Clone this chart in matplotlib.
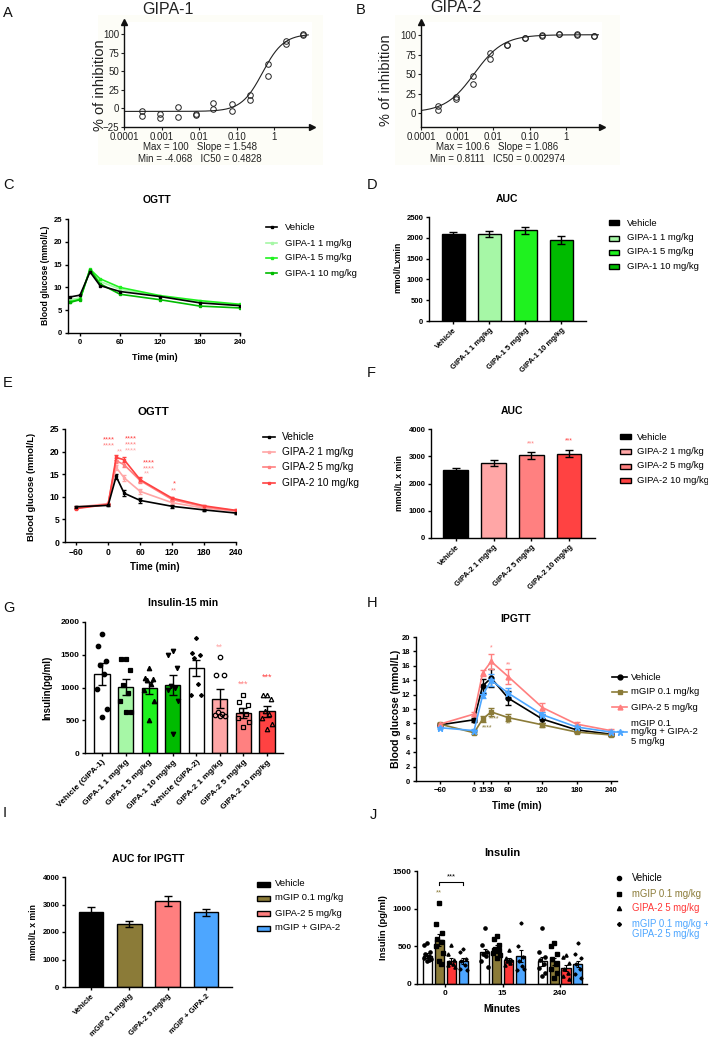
import numpy as np
import matplotlib
matplotlib.use('Agg')
import matplotlib.pyplot as plt
from matplotlib.lines import Line2D
from matplotlib.patches import Rectangle

plt.rcParams['font.family'] = ['Liberation Sans', 'DejaVu Sans']

# ---------------- DATA ----------------
# A/B dose-response (concentration, % inhibition, duplicates)
conc = [0.0003, 0.0009, 0.0027, 0.0081, 0.024, 0.073, 0.22, 0.66, 2.0, 5.9]
gipa1_rep1 = [-4, -8, 2, -7, 7, 6, 18, 59, 91, 100]
gipa1_rep2 = [-10, -13, -12, -9, -1, -3, 11, 44, 86, 99]
gipa1_fit = dict(top=100.0, bottom=-4.068, slope=1.548, ic50=0.4828)
gipa2_rep1 = [9, 21, 48, 77, 88, 97, 100, 101, 101, 99]
gipa2_rep2 = [4, 18, 37, 69, 87, 96, 99, 101, 100, 99]
gipa2_fit = dict(top=100.6, bottom=0.8111, slope=1.086, ic50=0.002974)

# C OGTT GIPA-1
times_c = [-15, 0, 15, 30, 60, 120, 180, 240]
c_series = ['Vehicle', 'GIPA-1 1 mg/kg', 'GIPA-1 5 mg/kg', 'GIPA-1 10 mg/kg']
c_vehicle = [7.9, 8.3, 13.4, 10.4, 9.1, 8.0, 6.6, 6.0]
c_g1_1 = [7.3, 7.7, 13.9, 11.3, 9.6, 8.0, 6.8, 6.1]
c_g1_5 = [6.9, 7.4, 14.0, 11.9, 10.0, 8.2, 7.1, 6.3]
c_g1_10 = [6.7, 7.3, 13.9, 10.8, 8.5, 7.3, 5.9, 5.5]

# D AUC GIPA-1
d_labels = ['Vehicle', 'GIPA-1 1 mg/kg', 'GIPA-1 5 mg/kg', 'GIPA-1 10 mg/kg']
d_auc = [2080, 2095, 2180, 1945]
d_sem = [55, 65, 90, 90]

# E OGTT GIPA-2
times_e = [-60, 0, 15, 30, 60, 120, 180, 240]
e_series = ['Vehicle', 'GIPA-2 1 mg/kg', 'GIPA-2 5 mg/kg', 'GIPA-2 10 mg/kg']
e_vehicle = [7.8, 8.1, 14.5, 10.8, 9.2, 7.9, 7.1, 6.4]
e_g2_1 = [7.7, 8.5, 16.5, 14.2, 11.2, 8.7, 7.5, 6.8]
e_g2_5 = [7.5, 8.4, 18.0, 17.1, 13.6, 9.4, 7.8, 6.9]
e_g2_10 = [7.4, 8.3, 18.7, 18.2, 13.8, 9.7, 8.0, 7.0]
e_sem = [0.2, 0.2, 0.6, 0.6, 0.5, 0.3, 0.2, 0.2]
# significance labels: (time, value, text, series index 1..3)
e_stars = [(2, 22.6, '****', 3), (2, 21.2, '****', 2), (22, 19.9, '**', 1),
           (42, 22.8, '****', 3), (42, 21.5, '****', 2), (42, 20.1, '****', 1),
           (77, 17.5, '****', 3), (77, 16.2, '****', 2), (73, 15.0, '**', 1),
           (124, 12.8, '*', 3), (124, 11.4, '**', 2)]

# F AUC GIPA-2
f_labels = ['Vehicle', 'GIPA-2 1 mg/kg', 'GIPA-2 5 mg/kg', 'GIPA-2 10 mg/kg']
f_auc = [2480, 2750, 3030, 3095]
f_sem = [90, 110, 120, 140]
f_stars = [(2, 3450, '***'), (3, 3560, '***')]

# G insulin 15 min
g_labels = ['Vehicle (GIPA-1)', 'GIPA-1 1 mg/kg', 'GIPA-1 5 mg/kg', 'GIPA-1 10 mg/kg',
            'Vehicle (GIPA-2)', 'GIPA-2 1 mg/kg', 'GIPA-2 5 mg/kg', 'GIPA-2 10 mg/kg']
g_means = [1210, 1010, 995, 1035, 1300, 830, 615, 640]
g_sem = [165, 125, 90, 150, 125, 150, 75, 85]
g_pts_veh1 = [1820, 1640, 1400, 1350, 1200, 980, 670, 550]
g_pts_g1_1 = [1440, 1440, 1260, 1040, 920, 800, 630, 630]
g_pts_g1_5 = [1300, 1150, 1130, 1110, 1060, 960, 790, 500]
g_pts_g1_10 = [1560, 1500, 1300, 1020, 1000, 960, 800, 290]
g_pts_veh2 = [1750, 1520, 1500, 1450, 1050, 890, 890]
g_pts_g2_1 = [1470, 1190, 1190, 620, 600, 580, 570, 560]
g_pts_g2_5 = [890, 780, 740, 650, 600, 540, 480, 390]
g_pts_g2_10 = [880, 880, 820, 640, 600, 530, 450, 360]
g_stars = [(5, 1620, '**'), (6, 1055, '***'), (7, 1160, '***')]

# H IPGTT
times_h = [-60, 0, 15, 30, 60, 120, 180, 240]
h_series = ['Vehicle', 'mGIP 0.1 mg/kg', 'GIPA-2 5 mg/kg', 'mGIP 0.1\nmg/kg + GIPA-2\n5 mg/kg']
h_vehicle = [7.8, 8.5, 13.2, 14.3, 11.5, 8.6, 7.1, 6.5]
h_vehicle_sem = [0.3, 0.3, 1.0, 1.2, 1.0, 0.5, 0.3, 0.3]
h_mgip = [7.9, 6.7, 8.6, 9.6, 8.8, 7.8, 6.8, 6.4]
h_mgip_sem = [0.2, 0.2, 0.4, 0.6, 0.5, 0.3, 0.2, 0.2]
h_gipa2 = [7.9, 9.3, 15.0, 16.6, 14.5, 10.2, 7.9, 7.0]
h_gipa2_sem = [0.2, 0.3, 0.4, 1.0, 1.0, 0.6, 0.3, 0.2]
h_combo = [7.4, 7.0, 11.9, 14.0, 12.2, 9.2, 7.5, 6.8]
h_combo_sem = [0.2, 0.2, 0.4, 0.8, 0.7, 0.4, 0.3, 0.2]
# (time, value, text, series index)
h_stars = [(30, 18.5, '*', 2), (60, 16.1, '**', 2), (35, 8.6, '****', 1),
           (23, 7.4, '****', 1), (60, 7.9, '**', 1)]

# I AUC IPGTT
i_labels = ['Vehicle', 'mGIP 0.1 mg/kg', 'GIPA-2 5 mg/kg', 'mGIP + GIPA-2']
i_auc = [2720, 2290, 3120, 2710]
i_sem = [180, 100, 180, 140]

# J insulin
j_times = ['0', '15', '240']
j_series = ['Vehicle', 'mGIP 0.1 mg/kg', 'GIPA-2 5 mg/kg', 'mGIP 0.1 mg/kg +\nGIPA-2 5 mg/kg']
j_vehicle = [375, 420, 300]
j_mgip = [590, 480, 300]
j_gipa2 = [305, 320, 210]
j_combo = [300, 370, 265]
j_vehicle_sem = [30, 50, 60]
j_mgip_sem = [80, 40, 50]
j_gipa2_sem = [40, 25, 40]
j_combo_sem = [40, 80, 45]
j_pts_vehicle = [[550, 520, 430, 400, 370, 350, 330, 300, 320],
                 [750, 520, 420, 400, 370, 300, 230],
                 [745, 430, 360, 320, 270, 210, 140, 100]]
j_pts_mgip = [[1080, 800, 680, 600, 560, 500, 410, 300, 260],
              [640, 600, 520, 460, 440, 410, 380, 350],
              [540, 500, 400, 330, 270, 200, 140, 80]]
j_pts_gipa2 = [[520, 400, 320, 290, 270, 250, 230],
               [450, 340, 320, 300, 280, 250],
               [390, 360, 280, 200, 140, 100, 60]]
j_pts_combo = [[470, 420, 330, 300, 250, 200, 180],
               [810, 500, 360, 300, 240, 180, 200],
               [540, 400, 340, 260, 200, 130, 80]]

# ---------------- STYLE ----------------
GL1, GL5, GL10 = '#a6f7a6', '#1ff21f', '#00bb00'
PK1, PK5, PK10 = '#ffa6a6', '#ff8080', '#ff4242'
OLIVE, SALMON, BLUE, RED = '#8b7b38', '#ff7f7f', '#4da6ff', '#ff3838'

W, H = 708, 1043
fig = plt.figure(figsize=(W / 100, H / 100), dpi=100)


def add_ax(l, t, r, b):
    return fig.add_axes([l / W, 1 - b / H, (r - l) / W, (b - t) / H])


def fx(x):
    return x / W


def fy(y):
    return 1 - y / H


def ftext(x, y, s, **kw):
    kw.setdefault('ha', 'center')
    kw.setdefault('va', 'center')
    fig.text(fx(x), fy(y), s, **kw)


def prism(ax, fs=5.5):
    for s in ['top', 'right']:
        ax.spines[s].set_visible(False)
    for s in ['left', 'bottom']:
        ax.spines[s].set_linewidth(1.0)
    ax.tick_params(direction='out', length=2.5, width=1.0, labelsize=fs, pad=1.5)
    for lab in ax.get_xticklabels() + ax.get_yticklabels():
        lab.set_fontweight('bold')


def leg_line(x0, x1, y, color, text, tx, fs, marker='s', ms=2.5, tcolor='black'):
    fig.add_artist(Line2D([fx(x0), fx(x1)], [fy(y), fy(y)], color=color, lw=1.2))
    fig.add_artist(Line2D([fx((x0 + x1) / 2)], [fy(y)], color=color, marker=marker, ms=ms, lw=0))
    ftext(tx, y, text, ha='left', fontsize=fs, color=tcolor, linespacing=1.0)


def leg_patch(x0, x1, y, color, text, tx, fs, h=5):
    fig.add_artist(Rectangle((fx(x0), fy(y + h / 2)), (x1 - x0) / W, h / H,
                             transform=fig.transFigure, facecolor=color,
                             edgecolor='black', lw=1.0))
    ftext(tx, y, text, ha='left', fontsize=fs)


def four_pl(x, p):
    x = np.asarray(x)
    return p['bottom'] + (p['top'] - p['bottom']) / (1 + (p['ic50'] / x) ** p['slope'])


# ---------------- A & B ----------------
def dose_panel(box, rep1, rep2, fit, ylim, title, tpos, ylabpos, txt, txtpos):
    ax = add_ax(*box)
    xx = np.logspace(-4, 0.9, 300)
    ax.plot(xx, four_pl(xx, fit), color='#222222', lw=0.8)
    ax.plot(conc, rep1, 'o', mfc='none', mec='#222222', ms=4, mew=0.7)
    ax.plot(conc, rep2, 'o', mfc='none', mec='#222222', ms=4, mew=0.7)
    ax.set_xscale('log')
    ax.set_xlim(1e-4, 10)
    ax.set_ylim(*ylim)
    ax.set_xticks([1e-4, 1e-3, 1e-2, 1e-1, 1])
    ax.set_xticklabels(['0.0001', '0.001', '0.01', '0.10', '1'])
    ax.xaxis.set_minor_locator(matplotlib.ticker.NullLocator())
    ax.set_yticks([t for t in [-25, 0, 25, 50, 75, 100] if t >= ylim[0]])
    for s in ['top', 'right']:
        ax.spines[s].set_visible(False)
    for s in ['left', 'bottom']:
        ax.spines[s].set_linewidth(1.0)
        ax.spines[s].set_color('#111111')
    ax.tick_params(direction='out', length=2.5, width=0.8, labelsize=7, pad=1.0,
                   colors='#222222')
    ax.plot([1], [0], '>', transform=ax.transAxes, clip_on=False, color='#111111', ms=5)
    ax.plot([0], [1], '^', transform=ax.transAxes, clip_on=False, color='#111111', ms=5)
    ftext(tpos[0], tpos[1], title, fontsize=11.5, color='#222222')
    ftext(ylabpos[0], ylabpos[1], '% of inhibition', rotation=90, fontsize=10.5,
          color='#222222')
    ftext(txtpos[0], txtpos[1], txt[0], fontsize=7, color='#222222')
    ftext(txtpos[0], txtpos[1] + 12, txt[1], fontsize=7, color='#222222')
    return ax


fig.add_artist(Rectangle((fx(98), fy(165)), 225 / W, 150 / H, transform=fig.transFigure,
                         facecolor='#fdfdf7', edgecolor='none', zorder=-5))
fig.add_artist(Rectangle((fx(395), fy(165)), 225 / W, 150 / H, transform=fig.transFigure,
                         facecolor='#fdfdf8', edgecolor='none', zorder=-5))

dose_panel((124, 22, 312, 127), gipa1_rep1, gipa1_rep2, gipa1_fit, (-25, 116),
           'GIPA-1', (168, 9), (100, 85),
           ('Max = 100   Slope = 1.548', 'Min = -4.068   IC50 = 0.4828'), (200, 147))
dose_panel((421, 22, 602, 127), gipa2_rep1, gipa2_rep2, gipa2_fit, (-18, 117),
           'GIPA-2', (456, 8), (386, 80),
           ('Max = 100.6   Slope = 1.086', 'Min = 0.8111   IC50 = 0.002974'), (497, 147))

# panel letters
for letter, (x, y) in {'A': (3, 13), 'B': (356, 10), 'C': (3, 185), 'D': (367, 185),
                       'E': (3, 383), 'F': (367, 373), 'G': (3, 608), 'H': (367, 603),
                       'I': (3, 813), 'J': (370, 815)}.items():
    ftext(x, y, letter, ha='left', fontsize=10.5, color='#111111')

# ---------------- C ----------------
ax = add_ax(68, 219, 240, 333)
for vals, col in zip([c_g1_1, c_g1_5, c_g1_10, c_vehicle], [GL1, GL5, GL10, 'black']):
    ax.plot(times_c, vals, color=col, lw=1.2, marker='s', ms=2)
ax.set_xlim(-18, 240)
ax.set_ylim(0, 25)
ax.set_xticks([0, 60, 120, 180, 240])
ax.set_yticks([0, 5, 10, 15, 20, 25])
prism(ax, 5.5)
ftext(157, 200, 'OGTT', fontsize=7.5, fontweight='bold')
ftext(45, 275, 'Blood glucose (mmol/L)', rotation=90, fontsize=6.2, fontweight='bold')
ftext(155, 357, 'Time (min)', fontsize=6.5, fontweight='bold')
for lab, col, y in zip(c_series, ['black', GL1, GL5, GL10], [227, 243, 258, 273]):
    leg_line(266, 277, y, col, lab, 285, 6.8, ms=2)

# ---------------- D ----------------
ax = add_ax(429, 217, 586, 321)
xd = np.arange(len(d_labels))
ax.bar(xd, d_auc, width=0.64, color=['black', GL1, GL5, GL10], edgecolor='black', lw=1.0,
       yerr=d_sem, capsize=3, error_kw=dict(lw=1.0, capthick=1.0))
ax.set_xlim(-0.67, 3.69)
ax.set_ylim(0, 2500)
ax.set_yticks([0, 500, 1000, 1500, 2000, 2500])
ax.set_xticks(xd)
ax.set_xticklabels(d_labels, rotation=45, ha='right', rotation_mode='anchor')
prism(ax, 5.5)
ftext(507, 199, 'AUC', fontsize=7.5, fontweight='bold')
ftext(398, 267, 'mmol/Lxmin', rotation=90, fontsize=6.2, fontweight='bold')
for lab, col, y in zip(d_labels, ['black', GL1, GL5, GL10], [223, 238, 252, 266]):
    leg_patch(609, 619, y, col, lab, 627, 6.8)

# ---------------- E ----------------
ax = add_ax(65, 429, 236, 542)
e_cols = ['black', PK1, PK5, PK10]
for vals, col in zip([e_g2_1, e_g2_5, e_g2_10, e_vehicle], e_cols[1:] + ['black']):
    ax.errorbar(times_e, vals, yerr=e_sem, color=col, lw=1.2, marker='s', ms=2,
                capsize=1.5, elinewidth=0.8)
for t, v, s, k in e_stars:
    ax.text(t, v, s, color=e_cols[k], fontsize=5.5, ha='center', va='center')
ax.set_xlim(-81, 240)
ax.set_ylim(0, 25)
ax.set_xticks([-60, 0, 60, 120, 180, 240])
ax.set_yticks([0, 5, 10, 15, 20, 25])
prism(ax, 6.2)
ftext(153, 412, 'OGTT', fontsize=8.2, fontweight='bold')
ftext(32, 487, 'Blood glucose (mmol/L)', rotation=90, fontsize=6.8, fontweight='bold')
ftext(155, 567, 'Time (min)', fontsize=7, fontweight='bold')
for lab, col, y in zip(e_series, e_cols, [437, 452, 467, 483]):
    leg_line(263, 275, y, col, lab, 282, 7.3, ms=2)

# ---------------- F ----------------
ax = add_ax(431, 429, 595, 538)
xf = np.arange(len(f_labels))
f_cols = ['black', PK1, PK5, PK10]
ax.bar(xf, f_auc, width=0.66, color=f_cols, edgecolor='black', lw=1.0,
       yerr=f_sem, capsize=3, error_kw=dict(lw=1.0, capthick=1.0))
for i, v, s in f_stars:
    ax.text(i, v, s, color=f_cols[i], fontsize=5, ha='center', va='center')
ax.set_xlim(-0.66, 3.69)
ax.set_ylim(0, 4000)
ax.set_yticks([0, 1000, 2000, 3000, 4000])
ax.set_xticks(xf)
ax.set_xticklabels(f_labels, rotation=45, ha='right', rotation_mode='anchor')
prism(ax, 5.5)
ftext(512, 411, 'AUC', fontsize=7.5, fontweight='bold')
ftext(400, 483, 'mmol/L x min', rotation=90, fontsize=6.2, fontweight='bold')
for lab, col, y in zip(f_labels, f_cols, [437, 452, 466, 480]):
    leg_patch(620, 631, y, col, lab, 637, 6.8)

# ---------------- G ----------------
ax = add_ax(85, 622, 283, 753)
xg = np.arange(len(g_labels))
g_cols = ['white', GL1, GL5, GL10, 'white', PK1, PK5, PK10]
ax.bar(xg, g_means, width=0.64, color=g_cols, edgecolor='black', lw=1.0,
       yerr=g_sem, capsize=3, error_kw=dict(lw=1.0, capthick=1.0), zorder=2)
g_pts = [g_pts_veh1, g_pts_g1_1, g_pts_g1_5, g_pts_g1_10,
         g_pts_veh2, g_pts_g2_1, g_pts_g2_5, g_pts_g2_10]
g_mk = [('o', 'black'), ('s', 'black'), ('^', 'black'), ('v', 'black'),
        ('D', 'black'), ('o', 'none'), ('s', 'none'), ('^', 'none')]
offs = [0.0, -0.18, 0.18, -0.09, 0.09, -0.22, 0.22, 0.0, 0.13]
for i, pts in enumerate(g_pts):
    m, fc = g_mk[i]
    xs = [i + offs[k % len(offs)] for k in range(len(pts))]
    ax.plot(xs, pts, m, mfc=fc, mec='black', ms=3.2 if m != 'D' else 2.0, mew=0.9,
            lw=0, zorder=3)
for i, v, s in g_stars:
    ax.text(i, v, s, color=g_cols[i], fontsize=6.5, ha='center', va='center')
ax.set_xlim(-0.72, 7.68)
ax.set_ylim(0, 2000)
ax.set_yticks([0, 500, 1000, 1500, 2000])
ax.set_xticks(xg)
ax.set_xticklabels(g_labels, rotation=45, ha='right', rotation_mode='anchor')
prism(ax, 6)
ftext(183, 603, 'Insulin-15 min', fontsize=7.5, fontweight='bold')
ftext(47, 688, 'Insulin(pg/ml)', rotation=90, fontsize=7, fontweight='bold')

# ---------------- H ----------------
ax = add_ax(416, 637, 617, 781)
h_cols = ['black', OLIVE, SALMON, BLUE]
h_mks = ['o', 's', '^', '*']
for vals, sem, col, mk in zip([h_vehicle, h_mgip, h_gipa2, h_combo],
                              [h_vehicle_sem, h_mgip_sem, h_gipa2_sem, h_combo_sem],
                              h_cols, h_mks):
    ax.errorbar(times_h, vals, yerr=sem, color=col, lw=1.2, marker=mk,
                ms=3.5 if mk != '*' else 4.5, capsize=2, elinewidth=1.0, clip_on=False)
for t, v, s, k in h_stars:
    ax.text(t, v, s, color=h_cols[k], fontsize=5, ha='center', va='center')
ax.set_xlim(-102, 251)
ax.set_ylim(0, 20)
ax.set_xticks([-60, 0, 15, 30, 60, 120, 180, 240])
ax.set_yticks(np.arange(0, 21, 2))
prism(ax, 5.5)
ftext(516, 619, 'IPGTT', fontsize=7.5, fontweight='bold')
ftext(396, 709, 'Blood glucose (mmol/L)', rotation=90, fontsize=7.5, fontweight='bold')
ftext(517, 806, 'Time (min)', fontsize=7, fontweight='bold')
for lab, col, mk, y in zip(h_series, h_cols, h_mks, [677, 692, 707, 732]):
    leg_line(612, 627, y, col, lab, 631, 6.8, marker=mk, ms=3.5 if mk != '*' else 4.5)

# ---------------- I ----------------
ax = add_ax(65, 877, 232, 987)
xi = np.arange(len(i_labels))
ax.bar(xi, i_auc, width=0.65, color=['black', OLIVE, SALMON, BLUE], edgecolor='black', lw=1.0,
       yerr=i_sem, capsize=3, error_kw=dict(lw=1.0, capthick=1.0))
ax.set_xlim(-0.68, 3.68)
ax.set_ylim(0, 4000)
ax.set_yticks([0, 1000, 2000, 3000, 4000])
ax.set_xticks(xi)
ax.set_xticklabels(i_labels, rotation=45, ha='right', rotation_mode='anchor')
prism(ax, 5.5)
ftext(148, 859, 'AUC for IPGTT', fontsize=7.5, fontweight='bold')
ftext(33, 932, 'mmol/L x min', rotation=90, fontsize=6.2, fontweight='bold')
for lab, col, y in zip(i_labels, ['black', OLIVE, SALMON, BLUE], [884, 898, 913, 928]):
    leg_patch(257, 270, y, col, lab, 275, 6.8)

# ---------------- J ----------------
ax = add_ax(417, 871, 587, 984)
xj = np.arange(len(j_times))
bw = 0.2087
j_cols = ['white', OLIVE, RED, BLUE]
j_mks = ['o', 's', '^', 'D']
j_means = [j_vehicle, j_mgip, j_gipa2, j_combo]
j_sems = [j_vehicle_sem, j_mgip_sem, j_gipa2_sem, j_combo_sem]
j_pts = [j_pts_vehicle, j_pts_mgip, j_pts_gipa2, j_pts_combo]
joffs = [0.0, -0.05, 0.05, -0.03, 0.03, -0.06, 0.06, 0.0, 0.04]
for s in range(4):
    pos = xj + (s - 1.5) * bw
    ax.bar(pos, j_means[s], width=0.157, color=j_cols[s], edgecolor='black', lw=1.0,
           yerr=j_sems[s], capsize=1.5, error_kw=dict(lw=0.8, capthick=0.8), zorder=2)
    for g in range(3):
        pts = j_pts[s][g]
        xs = [pos[g] + joffs[k % len(joffs)] for k in range(len(pts))]
        ax.plot(xs, pts, j_mks[s], color='black', ms=2.3 if j_mks[s] != 'D' else 1.6,
                lw=0, zorder=3)
x0, x1 = -0.5 * bw, 1.5 * bw
ax.plot([x0, x0, x1, x1], [1320, 1354, 1354, 1320], color='black', lw=0.8)
ax.text((x0 + x1) / 2, 1420, '***', fontsize=5.5, ha='center', va='center')
ax.text(-0.5 * bw, 1208, '**', fontsize=5.5, ha='center', va='center', color=OLIVE)
ax.set_xlim(-0.49, 2.47)
ax.set_ylim(0, 1500)
ax.set_yticks([0, 500, 1000, 1500])
ax.set_xticks(xj)
ax.set_xticklabels(j_times)
prism(ax, 6)
ftext(502, 853, 'Insulin', fontsize=8, fontweight='bold')
ftext(384, 928, 'Insulin (pg/ml)', rotation=90, fontsize=6.8, fontweight='bold')
ftext(502, 1009, 'Minutes', fontsize=7, fontweight='bold')
j_tcols = ['black', OLIVE, RED, BLUE]
for lab, mk, tc, y in zip(j_series, j_mks, j_tcols, [878, 894, 908, 929]):
    fig.add_artist(Line2D([fx(619)], [fy(y if '\n' not in lab else 924)], marker=mk,
                          color='black', ms=3 if mk != 'D' else 2, lw=0))
    ftext(632, y, lab, ha='left', fontsize=6.9, color=tc, linespacing=1.05)

fig.savefig('out.png', dpi=100)
